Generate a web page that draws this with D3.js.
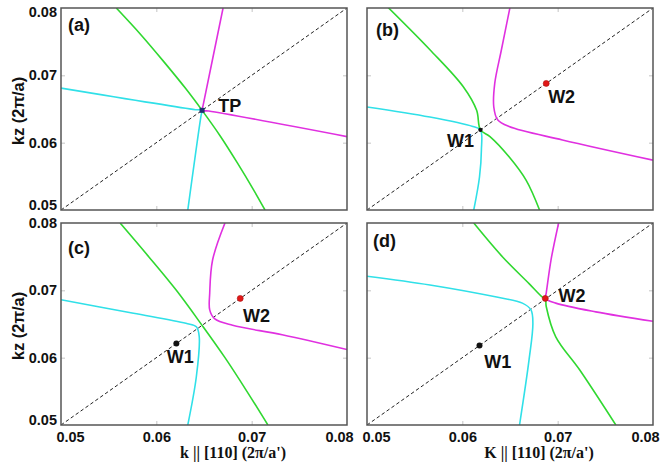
<!DOCTYPE html>
<html>
<head>
<meta charset="utf-8">
<script src="https://cdn.jsdelivr.net/npm/d3@7"></script>
<style>
  body { margin: 0; background: #fff; }
  svg text { font-weight: bold; }
</style>
</head>
<body>
<svg id="chart"></svg>
<script>
// axis ticks / names
var xTicks = [0.05, 0.06, 0.07, 0.08];
var yTicks = [0.05, 0.06, 0.07, 0.08];
var innerTicks = [0.06, 0.07];
var panelNames = ["(a)", "(b)", "(c)", "(d)"];
var diagonal = [0.05, 0.08];

// band contours, [k, kz]
var greenA = [[0.0558, 0.0800], [0.0584, 0.0760], [0.0608, 0.0720], [0.0631, 0.0680], [0.0648, 0.0648],
  [0.0667, 0.0610], [0.0685, 0.0570], [0.0702, 0.0530], [0.0714, 0.0500]];
var magentaA = [[0.0670, 0.0800], [0.0649, 0.0655], [0.0648, 0.0648], [0.0655, 0.0647], [0.0800, 0.0609]];
var cyanA = [[0.0500, 0.0681], [0.0641, 0.0649], [0.0648, 0.0648], [0.0647, 0.0641], [0.0633, 0.0500]];

var greenB = [[0.0522, 0.0801], [0.0566, 0.0738], [0.0601, 0.0683], [0.0615, 0.0648], [0.0619, 0.0619],
  [0.0629, 0.0609], [0.0649, 0.0579], [0.0667, 0.0544], [0.0681, 0.0500]];
var magentaB = [[0.0650, 0.0801], [0.0641, 0.0738], [0.0634, 0.0688], [0.0633, 0.0653], [0.0637, 0.0634],
  [0.0649, 0.0624], [0.0705, 0.0604], [0.0800, 0.0574]];
var cyanB = [[0.0500, 0.0653], [0.0566, 0.0638], [0.0611, 0.0624], [0.0619, 0.0619], [0.0620, 0.0589],
  [0.0618, 0.0549], [0.0612, 0.0500]];

var greenC = [[0.0562, 0.0800], [0.0592, 0.0750], [0.0621, 0.0700], [0.0648, 0.0648], [0.0672, 0.0600],
  [0.0695, 0.0550], [0.0717, 0.0500]];
var magentaC = [[0.0672, 0.0800], [0.0659, 0.0745], [0.0656, 0.0696], [0.0656, 0.0671], [0.0661, 0.0658],
  [0.0680, 0.0648], [0.0732, 0.0634], [0.0800, 0.0612]];
var cyanC = [[0.0500, 0.0686], [0.0576, 0.0666], [0.0631, 0.0651], [0.0642, 0.0646], [0.0645, 0.0631],
  [0.0642, 0.0572], [0.0633, 0.0500]];

var greenD = [[0.0612, 0.0800], [0.0642, 0.0750], [0.0670, 0.0710], [0.0684, 0.0690], [0.0687, 0.0688],
  [0.0688, 0.0676], [0.0698, 0.0631], [0.0723, 0.0582], [0.0761, 0.0500]];
var magentaD = [[0.0701, 0.0800], [0.0693, 0.0745], [0.0688, 0.0696], [0.0687, 0.0688], [0.0698, 0.0681],
  [0.0740, 0.0668], [0.0800, 0.0654]];
var cyanD = [[0.0500, 0.0721], [0.0566, 0.0708], [0.0636, 0.0690], [0.0663, 0.0681], [0.0672, 0.0671],
  [0.0674, 0.0651], [0.0670, 0.0597], [0.0660, 0.0500]];

// special points and where their names sit, [k, kz, name]
var pointsA = [[0.0648, 0.0648, "TP"]];
var pointsB = [[0.0619, 0.0619, "W1"], [0.0688, 0.0688, "W2"]];
var pointsC = [[0.0621, 0.0621, "W1"], [0.0688, 0.0688, "W2"]];
var pointsD = [[0.0618, 0.0618, "W1"], [0.0687, 0.0688, "W2"]];
var namesA = [[0.0665, 0.0646]];
var namesB = [[0.0584, 0.0594], [0.0690, 0.0659]];
var namesC = [[0.0611, 0.0592], [0.0691, 0.0653]];
var namesD = [[0.0623, 0.0585], [0.0701, 0.0682]];

var w = 663;
var h = 467;
var pw = 286;
var ph = 202;

var sans = "'Liberation Sans', Arial, sans-serif";
var serif = "'Liberation Serif', 'Times New Roman', serif";

var green = "#30d830";
var magenta = "#e030e0";
var cyan = "#30e0e8";

var panels = [
  { left: 61, top: 8, name: panelNames[0], nameAt: [7, 23], curves: [cyanA, magentaA, greenA], pts: pointsA, names: namesA, yLab: true, xLab: null },
  { left: 367, top: 8, name: panelNames[1], nameAt: [9, 28], curves: [cyanB, magentaB, greenB], pts: pointsB, names: namesB, yLab: false, xLab: null },
  { left: 61, top: 223, name: panelNames[2], nameAt: [7, 31], curves: [cyanC, magentaC, greenC], pts: pointsC, names: namesC, yLab: true, xLab: "k || [110] (2\u03c0/a')" },
  { left: 367, top: 223, name: panelNames[3], nameAt: [6, 24], curves: [cyanD, magentaD, greenD], pts: pointsD, names: namesD, yLab: false, xLab: "K || [110] (2\u03c0/a')" }
];
var curveColors = [cyan, magenta, green];

var svg = d3.select("#chart")
  .attr("width", w)
  .attr("height", h)
  .style("font-family", sans);

panels.forEach(function(p, i) {
  var xScale = d3.scaleLinear().domain([0.05, 0.08]).range([p.left, p.left + pw]);
  var yScale = d3.scaleLinear().domain([0.05, 0.08]).range([p.top + ph, p.top]);

  svg.append("clipPath")
    .attr("id", "clip" + i)
    .append("rect")
    .attr("x", p.left)
    .attr("y", p.top)
    .attr("width", pw)
    .attr("height", ph);

  // little grey ticks on all four sides, pointing in
  var sides = [
    [d3.axisBottom(xScale).tickSize(-4), "translate(0," + (p.top + ph) + ")"],
    [d3.axisTop(xScale).tickSize(-4), "translate(0," + p.top + ")"],
    [d3.axisLeft(yScale).tickSize(-4), "translate(" + p.left + ",0)"],
    [d3.axisRight(yScale).tickSize(-4), "translate(" + (p.left + pw) + ",0)"]
  ];
  sides.forEach(function(s) {
    var g = svg.append("g")
      .attr("transform", s[1])
      .call(s[0].tickValues(innerTicks).tickFormat(""));
    g.select(".domain").remove();
    g.selectAll("line").attr("stroke", "#c4c4c4");
  });

  var g = svg.append("g").attr("clip-path", "url(#clip" + i + ")");

  g.append("line")
    .attr("x1", xScale(diagonal[0]))
    .attr("y1", yScale(diagonal[0]))
    .attr("x2", xScale(diagonal[1]))
    .attr("y2", yScale(diagonal[1]))
    .attr("stroke", "#222")
    .attr("stroke-width", 1)
    .attr("stroke-dasharray", "3.5,2.5");

  var line = d3.line()
    .x(function(d) { return xScale(d[0]); })
    .y(function(d) { return yScale(d[1]); })
    .curve(d3.curveCatmullRom.alpha(0.5));

  p.curves.forEach(function(c, j) {
    g.append("path")
      .attr("d", line(c))
      .attr("fill", "none")
      .attr("stroke", curveColors[j])
      .attr("stroke-width", 1.6);
  });

  // frame
  svg.append("rect")
    .attr("x", p.left)
    .attr("y", p.top)
    .attr("width", pw)
    .attr("height", ph)
    .attr("fill", "none")
    .attr("stroke", "#555")
    .attr("stroke-width", 1.5);

  // markers
  p.pts.forEach(function(pt) {
    if (pt[2] == "TP") {
      svg.append("rect")
        .attr("x", xScale(pt[0]) - 2.5)
        .attr("y", yScale(pt[1]) - 2.5)
        .attr("width", 5)
        .attr("height", 5)
        .attr("fill", "#1f3070");
    } else {
      svg.append("circle")
        .attr("cx", xScale(pt[0]))
        .attr("cy", yScale(pt[1]))
        .attr("r", (i == 1 && pt[2] == "W1") ? 2.2 : 3)
        .attr("fill", pt[2] == "W1" ? "#111" : "#e01818")
        .attr("stroke", pt[2] == "W1" ? "none" : "#b01010")
        .attr("stroke-width", 0.6);
    }
  });

  p.names.forEach(function(n, j) {
    svg.append("text")
      .text(p.pts[j][2])
      .attr("x", xScale(n[0]))
      .attr("y", yScale(n[1]))
      .attr("font-size", "18px")
      .attr("fill", "#111");
  });

  svg.append("text")
    .text(p.name)
    .attr("x", p.left + p.nameAt[0])
    .attr("y", p.top + p.nameAt[1])
    .attr("font-size", "18px")
    .attr("fill", "#111");

  if (p.yLab) {
    var ya = svg.append("g")
      .attr("transform", "translate(" + p.left + ",0)")
      .call(d3.axisLeft(yScale).tickValues(yTicks).tickSize(0).tickPadding(4).tickFormat(d3.format(".2f")));
    ya.select(".domain").remove();
    ya.selectAll("text")
      .style("font-family", sans)
      .attr("font-size", "14.5px")
      .attr("fill", "#111")
      .attr("dy", function(d) {
        if (d == 0.05) return "-0.05em";
        if (d == 0.08 && p.top < 100) return "0.6em";
        return "0.32em";
      });

    svg.append("text")
      .text("kz (2\u03c0/a)")
      .attr("text-anchor", "middle")
      .attr("font-size", "16.5px")
      .attr("fill", "#111")
      .attr("transform", "translate(24," + (p.top + ph / 2 + 2) + ") rotate(-90)");
  }

  if (p.xLab) {
    var xa = svg.append("g")
      .attr("transform", "translate(0," + (p.top + ph) + ")")
      .call(d3.axisBottom(xScale).tickValues(xTicks).tickSize(0).tickPadding(7).tickFormat(d3.format(".2f")));
    xa.select(".domain").remove();
    xa.selectAll("text")
      .style("font-family", sans)
      .attr("font-size", "14.5px")
      .attr("fill", "#111")
      .attr("dx", function(d) {
        if (d == 0.05) return 9;
        if (d == 0.08) return -8;
        return 0;
      });

    svg.append("text")
      .text(p.xLab)
      .attr("x", p.left + pw / 2 + 29)
      .attr("y", 458)
      .attr("text-anchor", "middle")
      .attr("font-size", "16px")
      .style("font-family", serif)
      .attr("fill", "#111");
  }
});
</script>
</body>
</html>
